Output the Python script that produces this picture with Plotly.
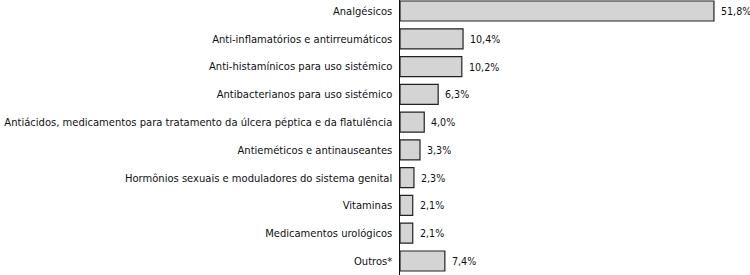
import plotly.graph_objects as go

categories = [
    "Analgésicos",
    "Anti-inflamatórios e antirreumáticos",
    "Anti-histamínicos para uso sistémico",
    "Antibacterianos para uso sistémico",
    "Antiácidos, medicamentos para tratamento da úlcera péptica e da flatulência",
    "Antieméticos e antinauseantes",
    "Hormônios sexuais e moduladores do sistema genital",
    "Vitaminas",
    "Medicamentos urológicos",
    "Outros*",
]
values = [51.8, 10.4, 10.2, 6.3, 4.0, 3.3, 2.3, 2.1, 2.1, 7.4]
labels = [f"{v:.1f}%".replace(".", ",") for v in values]

FONT = "DejaVu Sans Condensed, Liberation Sans, sans-serif"
FS = 11.1

fig = go.Figure(
    go.Bar(
        x=values,
        y=list(range(len(categories))),
        orientation="h",
        width=0.72,
        marker=dict(color="#d4d4d4", line=dict(color="#222222", width=1.2)),
        hoverinfo="skip",
    )
)

for i, (v, t) in enumerate(zip(values, labels)):
    fig.add_annotation(
        x=v, y=i, text=t, showarrow=False, xanchor="left", xshift=5,
        font=dict(family=FONT, size=10.6, color="#111111"),
    )

fig.update_layout(
    width=750,
    height=275,
    margin=dict(l=400, r=0, t=0, b=0, autoexpand=False),
    paper_bgcolor="white",
    plot_bgcolor="white",
    showlegend=False,
    font=dict(family=FONT, size=FS, color="#111111"),
)
fig.update_xaxes(range=[0, 57.75], visible=False, automargin=False)
fig.update_yaxes(
    tickmode="array",
    tickvals=list(range(len(categories))),
    ticktext=categories,
    range=[9.504, -0.396],
    automargin=False,
    showline=True,
    linecolor="#111111",
    linewidth=1.5,
    showgrid=False,
    zeroline=False,
    ticks="",
    ticklabelstandoff=4,
)

fig.write_html(
    "out.html",
    config={"displayModeBar": False, "staticPlot": True},
    post_script="document.body.style.margin='0';",
)
